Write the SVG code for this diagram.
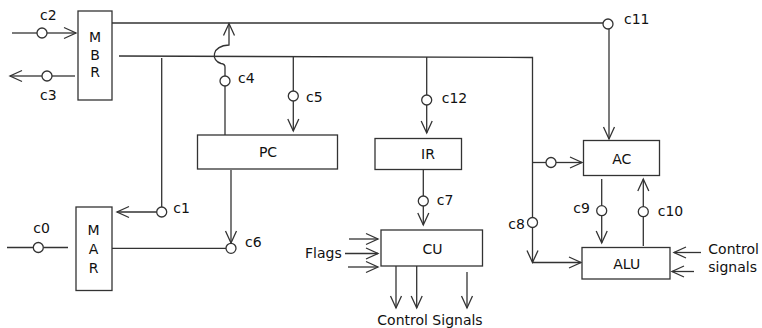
<svg xmlns="http://www.w3.org/2000/svg" width="762" height="328" viewBox="0 0 762 328">
<defs>
<marker id="arr" viewBox="-12 -6 13 12" refX="0" refY="0" markerWidth="13" markerHeight="12" markerUnits="userSpaceOnUse" orient="auto" overflow="visible">
<path d="M -12 -5.5 L 0 0 L -12 5.5" fill="none" stroke="#333" stroke-width="1.3"/>
</marker>
</defs>
<style>
.box{fill:#fff;stroke:#333;stroke-width:1.3}
.ln{fill:none;stroke:#333;stroke-width:1.3}
.a{marker-end:url(#arr)}
.g{fill:#fff;stroke:#333;stroke-width:1.3}
text{font-family:"DejaVu Sans",sans-serif;font-size:14px;fill:#111}
.m{text-anchor:middle}
</style>
<rect width="762" height="328" fill="#fff"/>
<g id="connectors">
<path class="ln" d="M 12 33 L 37 33"/>
<path class="ln a" d="M 47 33 L 76 33"/>
<circle class="g" cx="42" cy="33" r="5"/>
<path class="ln" d="M 75 76 L 52 76"/>
<path class="ln a" d="M 42 76 L 10 76"/>
<circle class="g" cx="47" cy="76" r="5"/>
<path class="ln" d="M 112 23 L 603 23"/>
<circle class="g" cx="608" cy="24" r="5"/>
<path class="ln a" d="M 609 29 L 609 139"/>
<path class="ln" d="M 119 56 L 532.5 57.5 L 532.5 217.5"/>
<circle class="g" cx="532.5" cy="222.5" r="5"/>
<path class="ln a" d="M 532.5 227.5 L 532.5 262.5"/>
<path class="ln a" d="M 532.5 262.5 L 581 262.5"/>
<path class="ln" d="M 532.5 162.5 L 546 162.5"/>
<circle class="g" cx="551" cy="162.5" r="5"/>
<path class="ln a" d="M 556 162.5 L 582 162.5"/>
<path class="ln" d="M 161.7 58 L 161.7 207"/>
<circle class="g" cx="161.7" cy="212" r="5"/>
<path class="ln a" d="M 156.7 212 L 117 212"/>
<path class="ln" d="M 7 247.5 L 33.3 247.5 M 43.3 247.5 L 68 247.5"/>
<circle class="g" cx="38.3" cy="247.5" r="5"/>
<path class="ln" d="M 112 248.3 L 226 248.3"/>
<path class="ln a" d="M 231 170 L 231 243"/>
<circle class="g" cx="231" cy="248.3" r="5"/>
<path class="ln" d="M 225 135 L 225 86"/>
<circle class="g" cx="225" cy="81" r="5"/>
<path class="ln a" d="M 225 76 L 225 67 Q 225 64 221 63.5 C 211 61 211 46 229 45 L 229 23.5"/>
<path class="ln" d="M 293.3 57 L 293.3 91"/>
<circle class="g" cx="293.3" cy="96" r="5"/>
<path class="ln a" d="M 293.3 101 L 293.3 131"/>
<path class="ln" d="M 426.7 57 L 426.7 95"/>
<circle class="g" cx="426.7" cy="100" r="5"/>
<path class="ln a" d="M 426.7 105 L 426.7 133"/>
<path class="ln" d="M 423.3 170 L 423.3 196"/>
<circle class="g" cx="423.3" cy="201" r="5"/>
<path class="ln a" d="M 423.3 206 L 423.3 225"/>
<path class="ln a" d="M 349 239 L 378 239"/>
<path class="ln a" d="M 345 253.5 L 378 253.5"/>
<path class="ln a" d="M 348 267 L 378 267"/>
<path class="ln a" d="M 396 266 L 396 308"/>
<path class="ln a" d="M 416.7 266 L 416.7 308"/>
<path class="ln a" d="M 467 272 L 467 308"/>
<path class="ln" d="M 601.7 179 L 601.7 205.7"/>
<circle class="g" cx="601.7" cy="210.7" r="5"/>
<path class="ln a" d="M 601.7 215.7 L 601.7 243"/>
<path class="ln" d="M 643.3 246 L 643.3 216.7"/>
<circle class="g" cx="643.3" cy="211.7" r="5"/>
<path class="ln a" d="M 643.3 206.7 L 643.3 179"/>
<path class="ln a" d="M 701 252.5 L 674 252.5"/>
<path class="ln a" d="M 694 271.5 L 672 271.5"/>
<text x="40" y="20">c2</text>
<text x="40" y="100">c3</text>
<text x="238" y="83.3">c4</text>
<text x="306" y="101.5">c5</text>
<text x="441.7" y="103.3">c12</text>
<text x="624" y="24">c11</text>
<text x="173.3" y="212.7">c1</text>
<text x="33.3" y="233.3">c0</text>
<text x="245" y="246.7">c6</text>
<text x="436.7" y="205">c7</text>
<text x="508.3" y="229.3">c8</text>
<text x="573.3" y="213.3">c9</text>
<text x="657.7" y="216">c10</text>
<text x="305" y="258.3">Flags</text>
<text x="377.3" y="325">Control Signals</text>
<text x="708.3" y="254">Control</text>
<text x="708.3" y="271.7">signals</text>
</g>
<g id="MBR">
<rect class="box" x="78" y="11" width="34" height="89"/>
<text class="m" x="95" y="41.5">M</text>
<text class="m" x="95" y="60">B</text>
<text class="m" x="95" y="77">R</text>
</g>
<g id="MAR">
<rect class="box" x="76" y="207" width="36" height="83.5"/>
<text class="m" x="93.5" y="235">M</text>
<text class="m" x="93.5" y="254">A</text>
<text class="m" x="93.5" y="272.5">R</text>
</g>
<g id="PC">
<rect class="box" x="197.5" y="135" width="140" height="34"/>
<text class="m" x="268" y="157.3">PC</text>
</g>
<g id="IR">
<rect class="box" x="375" y="138.5" width="86.5" height="31"/>
<text class="m" x="428" y="159.3">IR</text>
</g>
<g id="CU">
<rect class="box" x="381" y="230" width="101.5" height="36"/>
<text class="m" x="432.5" y="254">CU</text>
</g>
<g id="AC">
<rect class="box" x="583.5" y="140.5" width="76" height="35"/>
<text class="m" x="621.7" y="164">AC</text>
</g>
<g id="ALU">
<rect class="box" x="582" y="247.5" width="88" height="31.5"/>
<text class="m" x="626.7" y="269">ALU</text>
</g>
</svg>
